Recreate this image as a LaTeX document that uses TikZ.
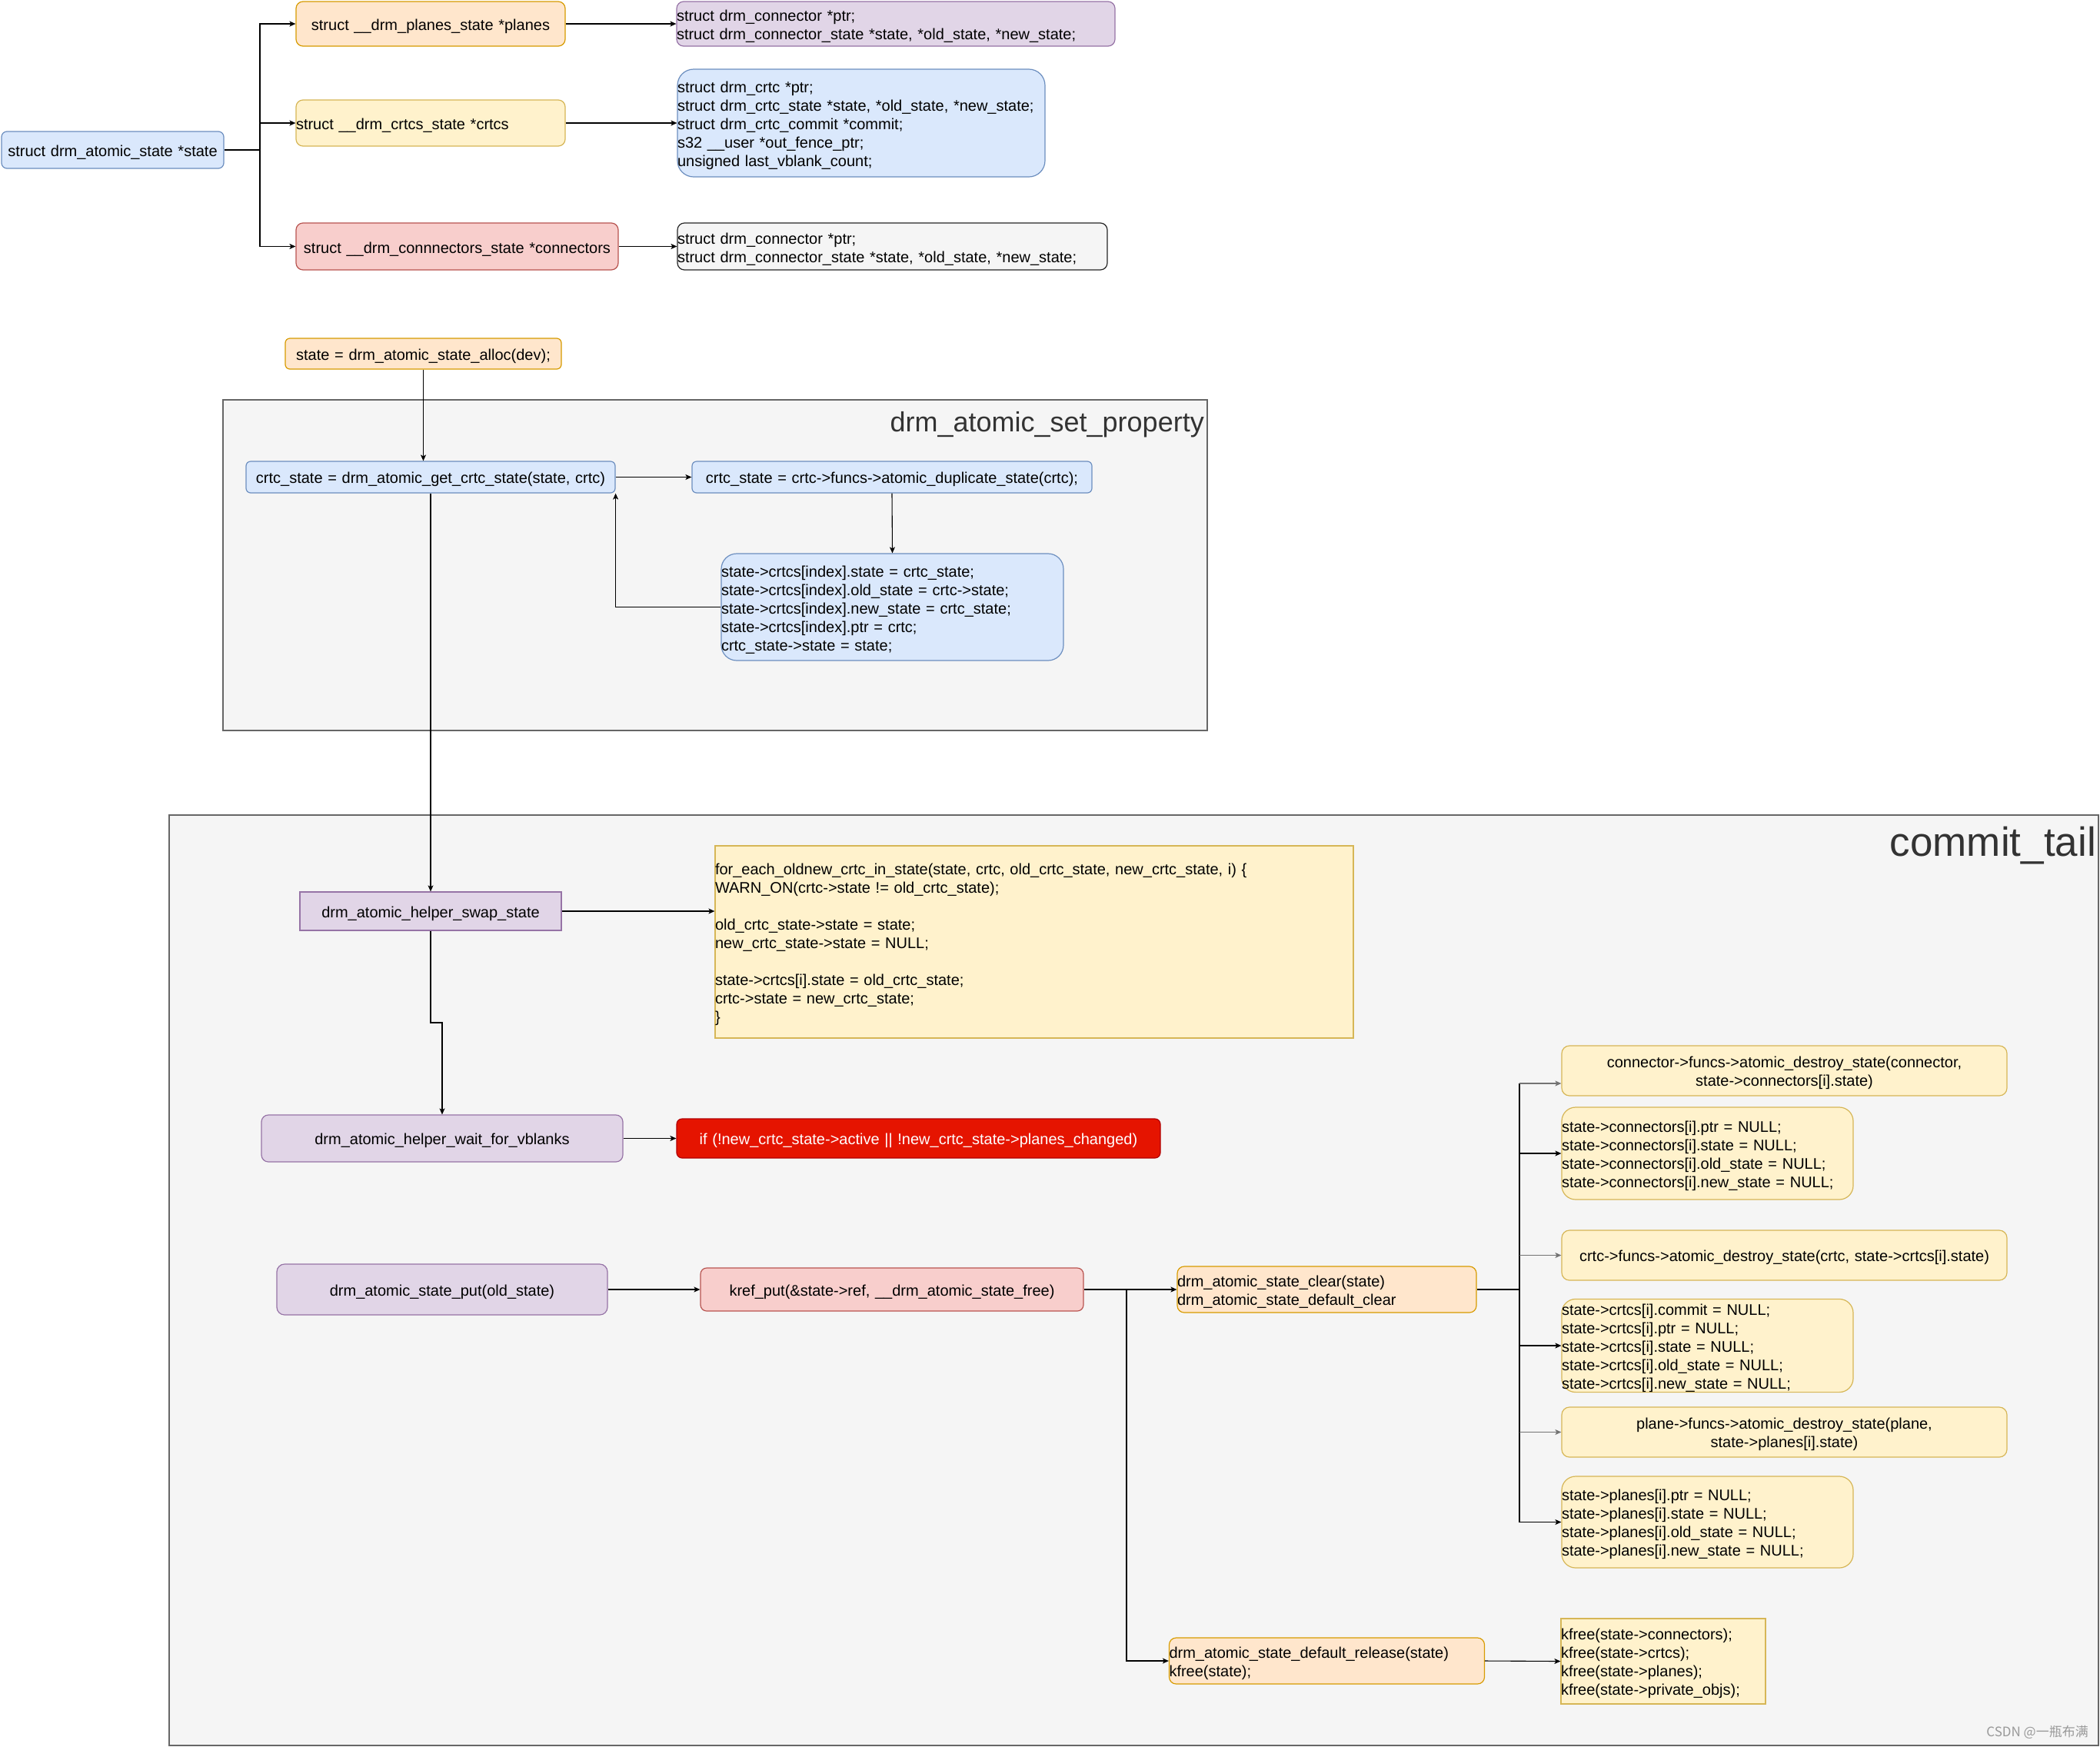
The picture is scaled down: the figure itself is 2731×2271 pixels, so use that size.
\documentclass[tikz,border=0pt]{standalone}
\usepackage{fontspec}
\setmainfont{Liberation Sans}
\newfontfamily\cjkfont{Noto Sans CJK SC}
\usetikzlibrary{arrows.meta}
\definecolor{blueF}{HTML}{DAE8FC}\definecolor{blueD}{HTML}{6C8EBF}
\definecolor{orF}{HTML}{FFE6CC}\definecolor{orD}{HTML}{D79B00}
\definecolor{yeF}{HTML}{FFF2CC}\definecolor{yeD}{HTML}{D6B656}
\definecolor{reF}{HTML}{F8CECC}\definecolor{reD}{HTML}{B85450}
\definecolor{puF}{HTML}{E1D5E7}\definecolor{puD}{HTML}{9673A6}
\definecolor{grF}{HTML}{F5F5F5}\definecolor{grD}{HTML}{666666}
\definecolor{drF}{HTML}{E51400}\definecolor{drD}{HTML}{B20000}
\definecolor{ttl}{HTML}{333333}
\newcommand\fs{\fontsize{20pt}{24pt}\selectfont}
\begin{document}
\begin{tikzpicture}[x=1pt,y=-1pt,
  box/.style={draw, line width=1.2pt, inner xsep=0pt, inner ysep=0pt, font=\fs, text=black,
    execute at begin node={\rule{0pt}{21pt}}},
  sz/.style 2 args={text width=#1, minimum height=#2},
  bl/.style={box, fill=blueF, draw=blueD},
  orb/.style={box, fill=orF, draw=orD},
  ye/.style={box, fill=yeF, draw=yeD},
  re/.style={box, fill=reF, draw=reD},
  pu/.style={box, fill=puF, draw=puD},
  gr/.style={box, fill=grF, draw=black!85},
  dr/.style={box, fill=drF, draw=drD, text=white},
  cont/.style={draw=grD, fill=grF, line width=1.6pt, inner sep=0pt},
  ln/.style={line width=1.1pt, draw=black},
  arr/.style={-{Stealth[length=8pt,width=7pt,inset=2pt]}},
  ga/.style={draw=black!55}
]
\useasboundingbox (0,0) rectangle (2731,2271);
\fill[white] (0,0) rectangle (2731,2271);

% containers
\node[cont, minimum width=1280pt, minimum height=430pt] (c1) at (930,735) {};
\node[anchor=base east, inner sep=0pt, font=\fontsize{36pt}{40pt}\selectfont, text=ttl] (t1) at (1566,561) {drm\_atomic\_set\_property};
\node[cont, minimum width=2509pt, minimum height=1210pt] (c2) at (1474.5,1665) {};
\node[anchor=base east, inner sep=0pt, font=\fontsize{53pt}{58pt}\selectfont, text=ttl] (t2) at (2726,1113) {commit\_tail};

% top section
\node[bl, rounded corners=7pt, sz={289pt}{48pt}, align=center] (state) at (146.5,195) {struct drm\_atomic\_state *state};
\node[orb, rounded corners=9pt, sz={350pt}{58pt}, align=center] (planes) at (560,31) {struct \_\_drm\_planes\_state *planes};
\node[ye, rounded corners=9pt, sz={350pt}{60pt}, align=left] (crtcs) at (560,160) {struct \_\_drm\_crtcs\_state *crtcs};
\node[re, rounded corners=9pt, sz={419pt}{61pt}, align=center] (conns) at (594.5,320.5) {struct \_\_drm\_connnectors\_state *connectors};
\node[pu, rounded corners=9pt, sz={570pt}{58pt}, align=left] (p1) at (1165,31) {struct drm\_connector *ptr;\\struct drm\_connector\_state *state, *old\_state, *new\_state;};
\node[bl, rounded corners=21pt, sz={478pt}{140pt}, align=left] (p2) at (1120,160) {struct drm\_crtc *ptr;\\struct drm\_crtc\_state *state, *old\_state, *new\_state;\\struct drm\_crtc\_commit *commit;\\s32 \_\_user *out\_fence\_ptr;\\unsigned last\_vblank\_count;};
\node[gr, rounded corners=9pt, sz={559pt}{61pt}, align=left] (p3) at (1160.5,320.5) {struct drm\_connector *ptr;\\struct drm\_connector\_state *state, *old\_state, *new\_state;};

\coordinate (fk) at (338,195);
\draw[ln] (state.east) -- (fk);
\draw[ln,arr] (fk) |- (planes.west);
\draw[ln,arr] (fk) |- (crtcs.west);
\draw[ln,arr] (fk) |- (conns.west);
\draw[ln,arr] (planes.east) -- (p1.west);
\draw[ln,arr] (crtcs.east) -- (p2.west);
\draw[ln,arr] (conns.east) -- (p3.west);

% middle section
\node[orb, rounded corners=6pt, sz={359pt}{40pt}, align=center] (alloc) at (550.5,460) {state = drm\_atomic\_state\_alloc(dev);};
\node[bl, rounded corners=6pt, sz={480pt}{41pt}, align=center] (get) at (560,620.5) {crtc\_state = drm\_atomic\_get\_crtc\_state(state, crtc)};
\node[bl, rounded corners=6pt, sz={520pt}{41pt}, align=center] (dup) at (1160,620.5) {crtc\_state = crtc->funcs->atomic\_duplicate\_state(crtc);};
\node[bl, rounded corners=20pt, sz={445pt}{139pt}, align=left] (assign) at (1160.5,789.5) {state->crtcs[index].state = crtc\_state;\\state->crtcs[index].old\_state = crtc->state;\\state->crtcs[index].new\_state = crtc\_state;\\state->crtcs[index].ptr = crtc;\\crtc\_state->state = state;};

\draw[ln,arr] (alloc.south) -- (alloc.south |- get.north);
\draw[ln,arr] (get.east) -- (dup.west);
\draw[ln,arr] (dup.south) -- (assign.north);
\draw[ln,arr] (assign.west) -| (get.south east);

% commit_tail section
\node[pu, sz={340pt}{50pt}, align=center] (swap) at (560,1185) {drm\_atomic\_helper\_swap\_state};
\node[ye, sz={830pt}{250pt}, align=left] (foreach) at (1345,1225) {for\_each\_oldnew\_crtc\_in\_state(state, crtc, old\_crtc\_state, new\_crtc\_state, i) \{\\WARN\_ON(crtc->state != old\_crtc\_state);\\\mbox{}\\old\_crtc\_state->state = state;\\new\_crtc\_state->state = NULL;\\\mbox{}\\state->crtcs[i].state = old\_crtc\_state;\\crtc->state = new\_crtc\_state;\\\}};
\node[pu, rounded corners=9pt, sz={470pt}{61pt}, align=center] (wait) at (575,1480.5) {drm\_atomic\_helper\_wait\_for\_vblanks};
\node[dr, rounded corners=7pt, sz={629pt}{51pt}, align=center] (red) at (1194.5,1480.5) {if (!new\_crtc\_state->active || !new\_crtc\_state->planes\_changed)};
\node[pu, rounded corners=10pt, sz={430pt}{66pt}, align=center] (put) at (575,1677) {drm\_atomic\_state\_put(old\_state)};
\node[re, rounded corners=8pt, sz={498pt}{56pt}, align=center] (kref) at (1160,1677) {kref\_put(\&state->ref, \_\_drm\_atomic\_state\_free)};
\node[orb, rounded corners=9pt, sz={389pt}{60pt}, align=left] (clear) at (1725.5,1677) {drm\_atomic\_state\_clear(state)\\drm\_atomic\_state\_default\_clear};

\node[ye, rounded corners=10pt, sz={579pt}{65pt}, align=center] (r1) at (2320.5,1392.5) {connector->funcs->atomic\_destroy\_state(connector,\\state->connectors[i].state)};
\node[ye, rounded corners=18pt, sz={379pt}{120pt}, align=left] (r2) at (2220.5,1500) {state->connectors[i].ptr = NULL;\\state->connectors[i].state = NULL;\\state->connectors[i].old\_state = NULL;\\state->connectors[i].new\_state = NULL;};
\node[ye, rounded corners=10pt, sz={579pt}{65pt}, align=center] (r3) at (2320.5,1632.5) {crtc->funcs->atomic\_destroy\_state(crtc, state->crtcs[i].state)};
\node[ye, rounded corners=18pt, sz={379pt}{120pt}, align=left] (r4) at (2220.5,1750) {state->crtcs[i].commit = NULL;\\state->crtcs[i].ptr = NULL;\\state->crtcs[i].state = NULL;\\state->crtcs[i].old\_state = NULL;\\state->crtcs[i].new\_state = NULL;};
\node[ye, rounded corners=10pt, sz={579pt}{65pt}, align=center] (r5) at (2320.5,1862.5) {plane->funcs->atomic\_destroy\_state(plane,\\state->planes[i].state)};
\node[ye, rounded corners=18pt, sz={379pt}{119pt}, align=left] (r6) at (2220.5,1979.5) {state->planes[i].ptr = NULL;\\state->planes[i].state = NULL;\\state->planes[i].old\_state = NULL;\\state->planes[i].new\_state = NULL;};

\node[orb, rounded corners=9pt, sz={410pt}{60pt}, align=left] (release) at (1725.5,2160) {drm\_atomic\_state\_default\_release(state)\\kfree(state);};
\node[ye, sz={266pt}{111pt}, align=left] (kfree) at (2163,2160.5) {kfree(state->connectors);\\kfree(state->crtcs);\\kfree(state->planes);\\kfree(state->private\_objs);};

\node[anchor=east, inner sep=0pt, font=\cjkfont\fontsize{17pt}{20pt}\selectfont, text=black!40] (wm) at (2716,2253) {CSDN @一瓶布满};

\draw[ln,arr] (get.south) -- (swap.north);
\draw[ln,arr] (swap.east) -- (swap.east -| foreach.west);
\coordinate (sw) at (560,1330);
\draw[ln,arr] (swap.south) -- (sw) -| (wait.north);
\draw[ln,arr] (wait.east) -- (red.west);
\draw[ln,arr] (put.east) -- (kref.west);
\draw[ln,arr] (kref.east) -- (clear.west);
\coordinate (br) at (1465,1677);
\draw[ln,arr] (br) |- (release.west);
\draw[ln,arr] (release.east) -- (kfree.west);

\coordinate (cf) at (1976,1677);
\coordinate (e1) at ([yshift=-16.5pt]r1.west);
\draw[ln] (clear.east) -- (cf);
\draw[ln] (cf |- e1) -- (cf |- r6.west);
\draw[ln,arr,ga] (cf |- e1) -- (e1);
\draw[ln,arr] (cf |- r2.west) -- (r2.west);
\draw[ln,arr,ga] (cf |- r3.west) -- (r3.west);
\draw[ln,arr] (cf |- r4.west) -- (r4.west);
\draw[ln,arr,ga] (cf |- r5.west) -- (r5.west);
\draw[ln,arr] (cf |- r6.west) -- (r6.west);
\end{tikzpicture}
\end{document}
